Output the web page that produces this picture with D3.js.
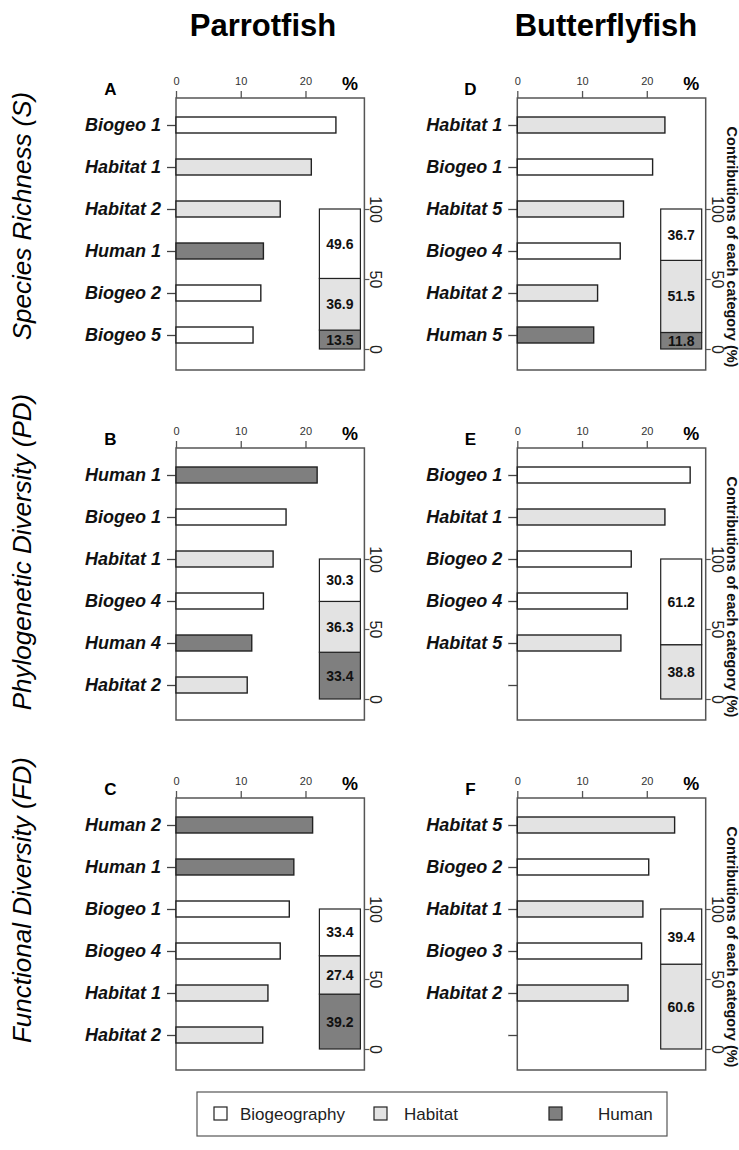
<!DOCTYPE html>
<html>
<head>
<meta charset="utf-8">
<script src="https://cdn.jsdelivr.net/npm/d3@7"></script>
<style>
  html, body { margin: 0; padding: 0; background: #ffffff; }
  svg { display: block; }
</style>
</head>
<body>
<script>
// ---------------- DATA ----------------
const columnTitles = ["Parrotfish", "Butterflyfish"];
const rowTitles = ["Species Richness (S)", "Phylogenetic Diversity (PD)", "Functional Diversity (FD)"];
const panelIds = ["A", "B", "C", "D", "E", "F"];
const xTicks = [0, 10, 20];
const stackTicks = [0, 50, 100];
const rightLabel = "Contributions of each category (%)";
const legendLabels = ["Biogeography", "Habitat", "Human"];

const labelsA = ["Biogeo 1", "Habitat 1", "Habitat 2", "Human 1", "Biogeo 2", "Biogeo 5"];
const valuesA = [24.7, 20.9, 16.1, 13.5, 13.1, 11.9];
const stackA = [49.6, 36.9, 13.5];   // biogeography, habitat, human

const labelsB = ["Human 1", "Biogeo 1", "Habitat 1", "Biogeo 4", "Human 4", "Habitat 2"];
const valuesB = [21.8, 17.0, 15.0, 13.5, 11.7, 11.0];
const stackB = [30.3, 36.3, 33.4];

const labelsC = ["Human 2", "Human 1", "Biogeo 1", "Biogeo 4", "Habitat 1", "Habitat 2"];
const valuesC = [21.1, 18.2, 17.5, 16.1, 14.2, 13.4];
const stackC = [33.4, 27.4, 39.2];

const labelsD = ["Habitat 1", "Biogeo 1", "Habitat 5", "Biogeo 4", "Habitat 2", "Human 5"];
const valuesD = [22.8, 20.9, 16.4, 15.9, 12.4, 11.8];
const stackD = [36.7, 51.5, 11.8];

const labelsE = ["Biogeo 1", "Habitat 1", "Biogeo 2", "Biogeo 4", "Habitat 5", ""];
const valuesE = [26.7, 22.8, 17.6, 17.0, 16.0];
const stackE = [61.2, 38.8, 0];

const labelsF = ["Habitat 5", "Biogeo 2", "Habitat 1", "Biogeo 3", "Habitat 2", ""];
const valuesF = [24.3, 20.3, 19.4, 19.2, 17.1];
const stackF = [39.4, 60.6, 0];

// ---------------- LAYOUT / STYLE ----------------
const W = 739, H = 1150;
const FONT = "'Liberation Sans', Arial, Helvetica, sans-serif";
const colLeft = [176, 517.3];
const rowTop = [98, 448, 798];
const frameW = 188.4, frameH = 272;
const xMax = 29.1;
const letterX = [110.5, 470.5];
const titleX = [263, 606];
const rowTitleY = [216, 552, 900];
const catColor = { Biogeo: "#ffffff", Habitat: "#e3e3e3", Human: "#7f7f7f" };
const stackColors = ["#ffffff", "#e3e3e3", "#7f7f7f"];

const panels = [
  { id: "A", col: 0, row: 0, labels: labelsA, values: valuesA, stack: stackA },
  { id: "B", col: 0, row: 1, labels: labelsB, values: valuesB, stack: stackB },
  { id: "C", col: 0, row: 2, labels: labelsC, values: valuesC, stack: stackC },
  { id: "D", col: 1, row: 0, labels: labelsD, values: valuesD, stack: stackD },
  { id: "E", col: 1, row: 1, labels: labelsE, values: valuesE, stack: stackE },
  { id: "F", col: 1, row: 2, labels: labelsF, values: valuesF, stack: stackF }
];

const svg = d3.select("body").append("svg")
  .attr("width", W).attr("height", H)
  .style("font-family", FONT);

svg.append("rect").attr("width", W).attr("height", H).attr("fill", "#ffffff");

// Column titles
svg.selectAll("text.coltitle").data(columnTitles).enter().append("text")
  .attr("class", "coltitle")
  .attr("x", (d, i) => titleX[i]).attr("y", 36)
  .attr("text-anchor", "middle")
  .style("font-size", "31px").style("font-weight", "bold")
  .text(d => d);

panels.forEach(p => {
  const L = colLeft[p.col], T = rowTop[p.row], R = L + frameW;
  const g = svg.append("g");

  const x = d3.scaleLinear().domain([0, xMax]).range([L, R]);
  const y = d3.scalePoint().domain(d3.range(6)).range([T + 27, T + 237]);
  const ys = d3.scaleLinear().domain([0, 100]).range([T + 251, T + 111]);

  // frame
  g.append("rect").attr("x", L).attr("y", T).attr("width", frameW).attr("height", frameH)
    .attr("fill", "none").attr("stroke", "#555").attr("stroke-width", 1.5);

  // top axis
  const ax = g.append("g").attr("transform", `translate(0,${T})`)
    .call(d3.axisTop(x).tickValues(xTicks).tickSize(7).tickPadding(6).tickFormat(d3.format("d")));
  ax.select(".domain").remove();
  ax.selectAll("line").attr("stroke", "#555").attr("stroke-width", 1.3);
  ax.selectAll("text").style("font-size", "11px").attr("fill", "#333").style("font-family", FONT);

  // left axis
  const ay = g.append("g").attr("transform", `translate(${L},0)`)
    .call(d3.axisLeft(y).tickSize(9).tickPadding(6).tickFormat(i => p.labels[i] || ""));
  ay.select(".domain").remove();
  ay.selectAll("line").attr("stroke", "#444").attr("stroke-width", 1.3);
  ay.selectAll("text").style("font-size", "18px").style("font-weight", "bold")
    .style("font-style", "italic").attr("fill", "#111").style("font-family", FONT);

  // bars
  g.selectAll("rect.bar").data(p.values).enter().append("rect")
    .attr("class", "bar")
    .attr("x", x(0)).attr("y", (d, i) => y(i) - 8)
    .attr("width", d => x(d) - x(0)).attr("height", 16)
    .attr("fill", (d, i) => catColor[p.labels[i].split(" ")[0]])
    .attr("stroke", "#222").attr("stroke-width", 1.4);

  // stacked inset
  let acc = 0;
  const segs = [];
  [2, 1, 0].forEach(k => {
    const v = p.stack[k];
    if (v > 0) { segs.push({ k, v0: acc, v1: acc + v, v }); }
    acc += v;
  });
  const sx0 = R - 45, sw = 41;
  g.selectAll("rect.seg").data(segs).enter().append("rect")
    .attr("class", "seg")
    .attr("x", sx0).attr("y", d => ys(d.v1))
    .attr("width", sw).attr("height", d => ys(d.v0) - ys(d.v1))
    .attr("fill", d => stackColors[d.k]).attr("stroke", "#222").attr("stroke-width", 1.2);
  g.selectAll("text.seg").data(segs).enter().append("text")
    .attr("class", "seg")
    .attr("x", sx0 + sw / 2).attr("y", d => (ys(d.v0) + ys(d.v1)) / 2)
    .attr("dy", "0.36em").attr("text-anchor", "middle")
    .style("font-size", "14px").style("font-weight", "bold").attr("fill", "#111")
    .text(d => d.v.toFixed(1));

  // right axis for stacked bar
  const ar = g.append("g").attr("transform", `translate(${R},0)`)
    .call(d3.axisRight(ys).tickValues(stackTicks).tickSize(5));
  ar.select(".domain").remove();
  ar.selectAll("line").attr("stroke", "#555").attr("stroke-width", 1.2);
  ar.selectAll("text")
    .attr("x", null).attr("dy", null)
    .attr("transform", "translate(6,0) rotate(90)")
    .attr("text-anchor", "middle")
    .style("font-size", "16px").attr("fill", "#222").style("font-family", FONT);

  // panel letter and %
  g.append("text").attr("x", letterX[p.col]).attr("y", T - 3)
    .attr("text-anchor", "middle").style("font-size", "17px").style("font-weight", "bold")
    .text(p.id);
  g.append("text").attr("x", L + 174).attr("y", T - 8)
    .attr("text-anchor", "middle").style("font-size", "18px").style("font-weight", "bold")
    .text("%");

  if (p.col === 1) {
    g.append("text")
      .attr("transform", `translate(727,${T + 149}) rotate(90)`)
      .attr("text-anchor", "middle")
      .style("font-size", "14.5px").style("font-weight", "bold").attr("fill", "#111")
      .text(rightLabel);
  }
});

// Row titles (drawn on top, as in the original where they overlap label starts)
svg.selectAll("text.rowtitle").data(rowTitles).enter().append("text")
  .attr("class", "rowtitle")
  .attr("transform", (d, i) => `translate(31,${rowTitleY[i]}) rotate(-90)`)
  .attr("text-anchor", "middle")
  .style("font-size", "26px").style("font-style", "italic")
  .text(d => d);

// Legend
const lg = svg.append("g");
lg.append("rect").attr("x", 197).attr("y", 1092).attr("width", 470).attr("height", 44)
  .attr("fill", "#fff").attr("stroke", "#555").attr("stroke-width", 1.2);
const legSqX = [214, 374, 549];
const legTxX = [240, 404, 598];
lg.selectAll("rect.key").data(legendLabels).enter().append("rect")
  .attr("class", "key")
  .attr("x", (d, i) => legSqX[i]).attr("y", 1107).attr("width", 13).attr("height", 13)
  .attr("fill", (d, i) => stackColors[i]).attr("stroke", "#222").attr("stroke-width", 1.2);
lg.selectAll("text.key").data(legendLabels).enter().append("text")
  .attr("class", "key")
  .attr("x", (d, i) => legTxX[i]).attr("y", 1120)
  .style("font-size", "17px").attr("fill", "#222")
  .text(d => d);
</script>
</body>
</html>
